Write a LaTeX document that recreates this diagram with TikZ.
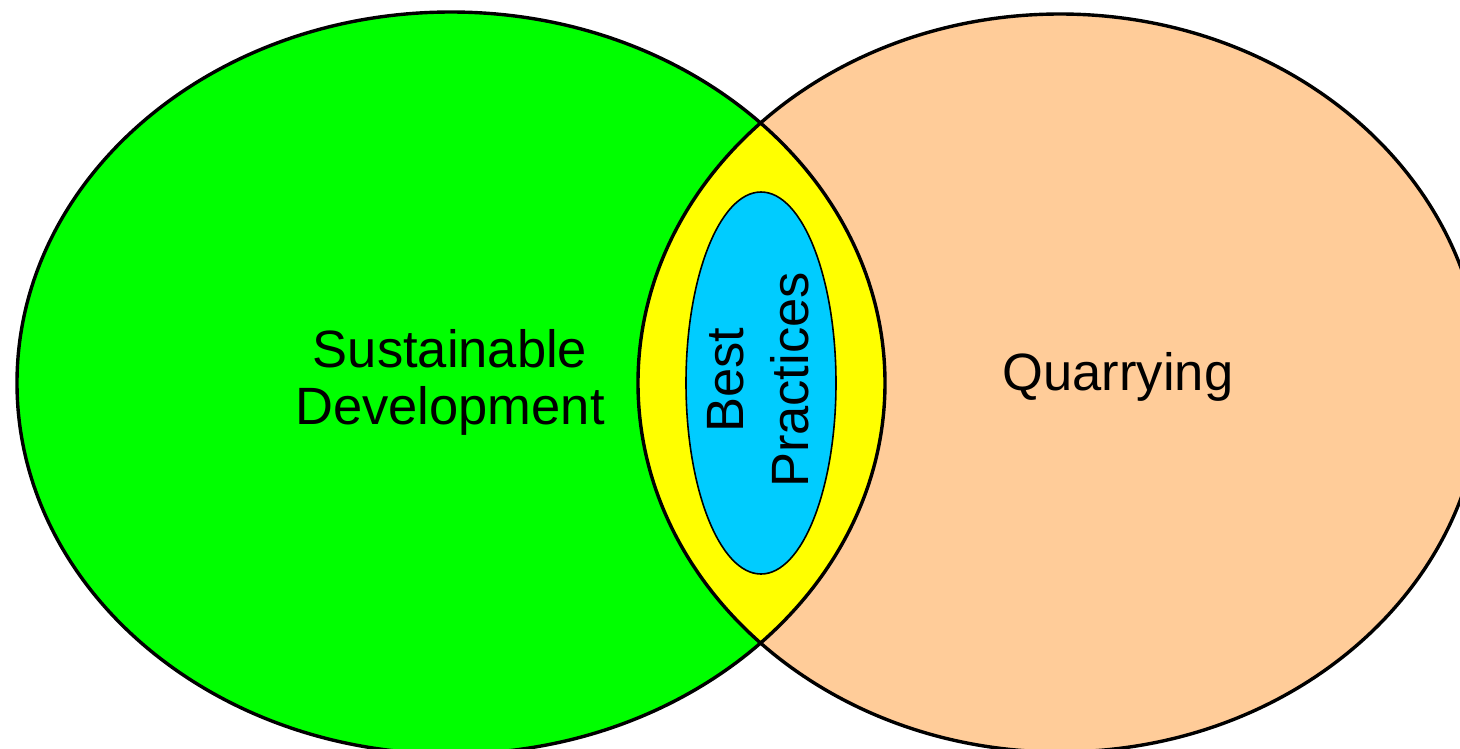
\documentclass[tikz,border=0pt]{standalone}
\usepackage{fontspec}
\setmainfont{Liberation Sans}
\definecolor{sdgreen}{HTML}{00FF00}
\definecolor{qpeach}{HTML}{FFCC99}
\definecolor{lensyellow}{HTML}{FFFF00}
\definecolor{bpblue}{HTML}{00CCFF}
\tikzset{
  outline/.style={draw=black, line width=3.4pt},
  thinline/.style={draw=black, line width=1.6pt},
  lbl/.style={font=\fontsize{52.5}{57}\selectfont, inner sep=0pt, anchor=base, text=black},
}
\begin{document}
\begin{tikzpicture}[x=1pt,y=-1pt]
\useasboundingbox (0,0) rectangle (1460,748);
% fills
\fill[sdgreen] (451,383) ellipse [x radius=434pt, y radius=371pt];
\fill[qpeach] (1060,383) ellipse [x radius=422pt, y radius=369pt];
\begin{scope}
  \clip (451,383) ellipse [x radius=434pt, y radius=371pt];
  \fill[lensyellow] (1060,383) ellipse [x radius=422pt, y radius=369pt];
\end{scope}
% outlines
\draw[outline] (451,383) ellipse [x radius=434pt, y radius=371pt];
\draw[outline] (1060,383) ellipse [x radius=422pt, y radius=369pt];
% inner ellipse
\draw[thinline, fill=bpblue] (761,383) ellipse [x radius=75pt, y radius=191pt];
% labels
\node[lbl] (sd1) at (450,367) {Sustainable};
\node[lbl] (sd2) at (450,424) {Development};
\node[lbl] (q) at (1118,390) {Quarrying};
\node[lbl, rotate=90] (bp1) at (743,380) {Best};
\node[lbl, rotate=90] (bp2) at (808,380) {Practices};
\end{tikzpicture}
\end{document}
